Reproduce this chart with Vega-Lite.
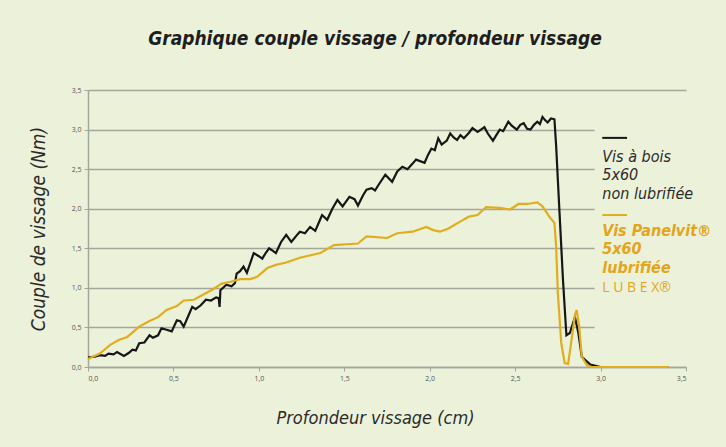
{
  "$schema": "https://vega.github.io/schema/vega-lite/v6.json",
  "width": 598,
  "height": 277,
  "autosize": {"type": "none"},
  "padding": {"left": 88, "top": 90, "right": 40, "bottom": 80},
  "background": "#ECF1DA",
  "config": {
    "view": {"stroke": null},
    "axisX": {
      "tickCount": 7,
      "labelExpr": "replace(format(datum.value, '.1f'), '.', ',')",
      "grid": false,
      "domainColor": "#A3A69B", "domainWidth": 1.5,
      "tickColor": "#A3A69B", "tickSize": 4,
      "labelFont": "Open Sans", "labelFontSize": 7, "labelColor": "#555555",
      "labelPadding": 3,
      "titleFont": "'DejaVu Sans Condensed', 'Roboto Condensed', Roboto, sans-serif",
      "titleFontSize": 18,
      "titleFontStyle": "italic", "titleFontWeight": "normal", "titleColor": "#2A2A2A",
      "titlePadding": 28, "titleX": 287
    },
    "axisY": {
      "tickCount": 7,
      "labelExpr": "replace(format(datum.value, '.1f'), '.', ',')",
      "grid": true, "gridColor": "#A3A69B", "gridWidth": 1.5,
      "domainColor": "#A3A69B", "domainWidth": 1.5,
      "tickColor": "#A3A69B", "tickSize": 4,
      "labelFont": "Open Sans", "labelFontSize": 7, "labelColor": "#555555",
      "labelPadding": 3,
      "titleFont": "'DejaVu Sans Condensed', 'Roboto Condensed', Roboto, sans-serif",
      "titleFontSize": 19,
      "titleFontStyle": "italic", "titleFontWeight": "normal", "titleColor": "#2A2A2A",
      "titlePadding": 23
    }
  },
  "title": {
    "text": "Graphique couple vissage / profondeur vissage",
    "font": "'DejaVu Sans Condensed', 'Roboto Condensed', Roboto, sans-serif",
    "fontSize": 19,
    "fontWeight": "bold",
    "fontStyle": "italic",
    "color": "#1E1E1E",
    "anchor": "middle",
    "dx": -12,
    "offset": 37
  },
  "datasets": {
    "curves": [
      {"s":"noir","x":0,"y":0.12},{"s":"noir","x":0.04,"y":0.13},{"s":"noir","x":0.07,"y":0.15},{"s":"noir","x":0.1,"y":0.14},{"s":"noir","x":0.12,"y":0.17},{"s":"noir","x":0.15,"y":0.16},{"s":"noir","x":0.17,"y":0.19},{"s":"noir","x":0.21,"y":0.14},{"s":"noir","x":0.24,"y":0.18},{"s":"noir","x":0.26,"y":0.22},{"s":"noir","x":0.28,"y":0.21},{"s":"noir","x":0.30,"y":0.30},{"s":"noir","x":0.33,"y":0.31},{"s":"noir","x":0.36,"y":0.40},{"s":"noir","x":0.38,"y":0.37},{"s":"noir","x":0.41,"y":0.40},{"s":"noir","x":0.43,"y":0.49},{"s":"noir","x":0.46,"y":0.47},{"s":"noir","x":0.49,"y":0.45},{"s":"noir","x":0.52,"y":0.59},{"s":"noir","x":0.54,"y":0.58},{"s":"noir","x":0.56,"y":0.51},{"s":"noir","x":0.59,"y":0.66},{"s":"noir","x":0.61,"y":0.76},{"s":"noir","x":0.63,"y":0.73},{"s":"noir","x":0.66,"y":0.78},{"s":"noir","x":0.69,"y":0.85},{"s":"noir","x":0.72,"y":0.84},{"s":"noir","x":0.75,"y":0.88},{"s":"noir","x":0.765,"y":0.87},{"s":"noir","x":0.77,"y":0.76},{"s":"noir","x":0.775,"y":0.97},{"s":"noir","x":0.81,"y":1.04},{"s":"noir","x":0.84,"y":1.02},{"s":"noir","x":0.86,"y":1.06},{"s":"noir","x":0.87,"y":1.18},{"s":"noir","x":0.89,"y":1.21},{"s":"noir","x":0.91,"y":1.27},{"s":"noir","x":0.93,"y":1.19},{"s":"noir","x":0.97,"y":1.44},{"s":"noir","x":1.0,"y":1.40},{"s":"noir","x":1.02,"y":1.37},{"s":"noir","x":1.04,"y":1.44},{"s":"noir","x":1.06,"y":1.50},{"s":"noir","x":1.08,"y":1.47},{"s":"noir","x":1.10,"y":1.44},{"s":"noir","x":1.13,"y":1.58},{"s":"noir","x":1.16,"y":1.67},{"s":"noir","x":1.19,"y":1.58},{"s":"noir","x":1.22,"y":1.66},{"s":"noir","x":1.24,"y":1.71},{"s":"noir","x":1.27,"y":1.69},{"s":"noir","x":1.30,"y":1.77},{"s":"noir","x":1.33,"y":1.72},{"s":"noir","x":1.35,"y":1.82},{"s":"noir","x":1.37,"y":1.92},{"s":"noir","x":1.40,"y":1.86},{"s":"noir","x":1.43,"y":2.0},{"s":"noir","x":1.46,"y":2.11},{"s":"noir","x":1.49,"y":2.03},{"s":"noir","x":1.53,"y":2.15},{"s":"noir","x":1.56,"y":2.12},{"s":"noir","x":1.58,"y":2.04},{"s":"noir","x":1.61,"y":2.17},{"s":"noir","x":1.63,"y":2.24},{"s":"noir","x":1.66,"y":2.26},{"s":"noir","x":1.68,"y":2.23},{"s":"noir","x":1.70,"y":2.30},{"s":"noir","x":1.74,"y":2.43},{"s":"noir","x":1.78,"y":2.34},{"s":"noir","x":1.81,"y":2.47},{"s":"noir","x":1.84,"y":2.53},{"s":"noir","x":1.87,"y":2.50},{"s":"noir","x":1.90,"y":2.57},{"s":"noir","x":1.92,"y":2.62},{"s":"noir","x":1.97,"y":2.58},{"s":"noir","x":1.99,"y":2.68},{"s":"noir","x":2.01,"y":2.76},{"s":"noir","x":2.03,"y":2.74},{"s":"noir","x":2.05,"y":2.89},{"s":"noir","x":2.07,"y":2.81},{"s":"noir","x":2.10,"y":2.86},{"s":"noir","x":2.12,"y":2.95},{"s":"noir","x":2.14,"y":2.90},{"s":"noir","x":2.16,"y":2.87},{"s":"noir","x":2.18,"y":2.93},{"s":"noir","x":2.20,"y":2.89},{"s":"noir","x":2.23,"y":2.96},{"s":"noir","x":2.25,"y":3.02},{"s":"noir","x":2.28,"y":2.97},{"s":"noir","x":2.30,"y":3.00},{"s":"noir","x":2.32,"y":3.03},{"s":"noir","x":2.34,"y":2.95},{"s":"noir","x":2.37,"y":2.86},{"s":"noir","x":2.39,"y":2.93},{"s":"noir","x":2.41,"y":3.00},{"s":"noir","x":2.43,"y":2.98},{"s":"noir","x":2.46,"y":3.10},{"s":"noir","x":2.48,"y":3.05},{"s":"noir","x":2.51,"y":3.00},{"s":"noir","x":2.53,"y":3.06},{"s":"noir","x":2.55,"y":3.08},{"s":"noir","x":2.57,"y":3.01},{"s":"noir","x":2.59,"y":3.00},{"s":"noir","x":2.61,"y":3.06},{"s":"noir","x":2.63,"y":3.10},{"s":"noir","x":2.645,"y":3.07},{"s":"noir","x":2.66,"y":3.16},{"s":"noir","x":2.675,"y":3.12},{"s":"noir","x":2.69,"y":3.09},{"s":"noir","x":2.71,"y":3.14},{"s":"noir","x":2.73,"y":3.13},{"s":"noir","x":2.74,"y":2.79},{"s":"noir","x":2.76,"y":1.94},{"s":"noir","x":2.78,"y":1.10},{"s":"noir","x":2.80,"y":0.40},{"s":"noir","x":2.82,"y":0.43},{"s":"noir","x":2.85,"y":0.63},{"s":"noir","x":2.87,"y":0.43},{"s":"noir","x":2.89,"y":0.13},{"s":"noir","x":2.94,"y":0.03},{"s":"noir","x":3.0,"y":0.0},{"s":"noir","x":3.40,"y":0.0},
      {"s":"jaune","x":0,"y":0.10},{"s":"jaune","x":0.07,"y":0.17},{"s":"jaune","x":0.13,"y":0.28},{"s":"jaune","x":0.18,"y":0.34},{"s":"jaune","x":0.23,"y":0.38},{"s":"jaune","x":0.30,"y":0.51},{"s":"jaune","x":0.36,"y":0.58},{"s":"jaune","x":0.41,"y":0.63},{"s":"jaune","x":0.46,"y":0.72},{"s":"jaune","x":0.52,"y":0.77},{"s":"jaune","x":0.56,"y":0.84},{"s":"jaune","x":0.62,"y":0.85},{"s":"jaune","x":0.67,"y":0.91},{"s":"jaune","x":0.73,"y":0.98},{"s":"jaune","x":0.78,"y":1.05},{"s":"jaune","x":0.84,"y":1.08},{"s":"jaune","x":0.89,"y":1.11},{"s":"jaune","x":0.95,"y":1.11},{"s":"jaune","x":0.99,"y":1.14},{"s":"jaune","x":1.05,"y":1.25},{"s":"jaune","x":1.10,"y":1.29},{"s":"jaune","x":1.16,"y":1.32},{"s":"jaune","x":1.24,"y":1.38},{"s":"jaune","x":1.36,"y":1.44},{"s":"jaune","x":1.44,"y":1.54},{"s":"jaune","x":1.58,"y":1.56},{"s":"jaune","x":1.63,"y":1.65},{"s":"jaune","x":1.75,"y":1.63},{"s":"jaune","x":1.81,"y":1.69},{"s":"jaune","x":1.90,"y":1.71},{"s":"jaune","x":1.98,"y":1.77},{"s":"jaune","x":2.02,"y":1.73},{"s":"jaune","x":2.06,"y":1.71},{"s":"jaune","x":2.11,"y":1.75},{"s":"jaune","x":2.18,"y":1.84},{"s":"jaune","x":2.23,"y":1.90},{"s":"jaune","x":2.28,"y":1.92},{"s":"jaune","x":2.33,"y":2.02},{"s":"jaune","x":2.41,"y":2.01},{"s":"jaune","x":2.47,"y":1.99},{"s":"jaune","x":2.52,"y":2.06},{"s":"jaune","x":2.57,"y":2.06},{"s":"jaune","x":2.63,"y":2.08},{"s":"jaune","x":2.66,"y":2.03},{"s":"jaune","x":2.70,"y":1.90},{"s":"jaune","x":2.73,"y":1.82},{"s":"jaune","x":2.74,"y":1.52},{"s":"jaune","x":2.75,"y":0.93},{"s":"jaune","x":2.77,"y":0.30},{"s":"jaune","x":2.79,"y":0.05},{"s":"jaune","x":2.81,"y":0.04},{"s":"jaune","x":2.83,"y":0.34},{"s":"jaune","x":2.85,"y":0.66},{"s":"jaune","x":2.86,"y":0.72},{"s":"jaune","x":2.875,"y":0.51},{"s":"jaune","x":2.89,"y":0.13},{"s":"jaune","x":2.92,"y":0.02},{"s":"jaune","x":2.95,"y":0.0},{"s":"jaune","x":3.40,"y":0.0}
    ]
  },
  "layer": [
    {
      "data": {"name": "curves"},
      "mark": {"type": "line", "strokeWidth": 2.2},
      "encoding": {
        "x": {
          "field": "x", "type": "quantitative",
          "scale": {"domain": [0, 3.5], "nice": false},
          "title": "Profondeur vissage (cm)"
        },
        "y": {
          "field": "y", "type": "quantitative",
          "scale": {"domain": [0, 3.5], "nice": false},
          "title": "Couple de vissage (Nm)"
        },
        "color": {
          "field": "s", "type": "nominal",
          "scale": {"domain": ["noir", "jaune"], "range": ["#161616", "#E0AE1C"]},
          "legend": null
        },
        "order": {"field": "x", "type": "quantitative"}
      }
    },
    {
      "data": {"values": [{}]},
      "mark": {"type": "rect", "fill": "#ECF1DA"},
      "encoding": {
        "x": {"datum": 2.965, "type": "quantitative"},
        "x2": {"datum": 3.52},
        "y": {"datum": 0.08, "type": "quantitative"},
        "y2": {"datum": 3.3}
      }
    },
    {
      "data": {"values": [{}]},
      "mark": {"type": "rule", "color": "#161616", "strokeWidth": 2},
      "encoding": {
        "x": {"datum": 3.01, "type": "quantitative"},
        "x2": {"datum": 3.155},
        "y": {"datum": 2.895, "type": "quantitative"}
      }
    },
    {
      "data": {"values": [{}]},
      "mark": {
        "type": "text", "align": "left", "baseline": "top",
        "font": "'DejaVu Sans Condensed', 'Roboto Condensed', Roboto, sans-serif",
        "fontSize": 16, "fontStyle": "italic",
        "lineHeight": 18.5, "color": "#2A2A2A",
        "text": ["Vis à bois", "5x60", "non lubrifiée"]
      },
      "encoding": {
        "x": {"datum": 3.01, "type": "quantitative"},
        "y": {"datum": 2.76, "type": "quantitative"}
      }
    },
    {
      "data": {"values": [{}]},
      "mark": {"type": "rule", "color": "#E0AE1C", "strokeWidth": 2},
      "encoding": {
        "x": {"datum": 3.01, "type": "quantitative"},
        "x2": {"datum": 3.155},
        "y": {"datum": 1.92, "type": "quantitative"}
      }
    },
    {
      "data": {"values": [{}]},
      "mark": {
        "type": "text", "align": "left", "baseline": "top",
        "font": "'DejaVu Sans Condensed', 'Roboto Condensed', Roboto, sans-serif",
        "fontSize": 16, "fontStyle": "italic", "fontWeight": "bold",
        "lineHeight": 18.5, "color": "#E3A51A",
        "text": ["Vis Panelvit®", "5x60", "lubrifiée"]
      },
      "encoding": {
        "x": {"datum": 3.01, "type": "quantitative"},
        "y": {"datum": 1.82, "type": "quantitative"}
      }
    },
    {
      "data": {"values": [{}]},
      "mark": {
        "type": "text", "align": "left", "baseline": "middle",
        "font": "Open Sans", "fontSize": 14,
        "color": "#E3A51A",
        "text": "L U B E X®"
      },
      "encoding": {
        "x": {"datum": 3.01, "type": "quantitative"},
        "y": {"datum": 1.0, "type": "quantitative"}
      }
    }
  ]
}
